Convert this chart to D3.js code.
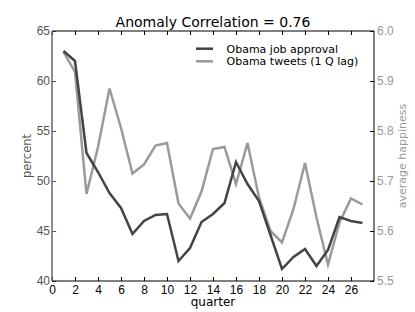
<!DOCTYPE html>
<html><head><meta charset="utf-8">
<script src="https://cdn.jsdelivr.net/npm/d3@7"></script>
<style>body{margin:0;background:#fff}svg{font-family:"DejaVu Sans",sans-serif}</style>
</head><body>
<svg id="c" width="415" height="312"></svg>
<script>
const quarters = d3.range(1, 28);
const approval = [63.0, 62.0, 52.8, 50.9, 48.8, 47.3, 44.7, 46.0, 46.6, 46.7, 42.0, 43.3, 45.9, 46.7, 47.8, 51.9, 49.7, 48.0, 44.6, 41.2, 42.4, 43.2, 41.5, 43.1, 46.4, 46.0, 45.8];
const tweets = [5.958, 5.918, 5.674, 5.768, 5.885, 5.806, 5.715, 5.733, 5.771, 5.776, 5.655, 5.625, 5.679, 5.764, 5.768, 5.694, 5.776, 5.667, 5.600, 5.577, 5.644, 5.736, 5.627, 5.533, 5.617, 5.665, 5.653];
const xTicks = d3.range(0, 27, 2);
const leftTicks = [40, 45, 50, 55, 60, 65];
const rightTicks = [5.5, 5.6, 5.7, 5.8, 5.9, 6.0];
const seriesNames = ["Obama job approval", "Obama tweets (1 Q lag)"];
const title = "Anomaly Correlation = 0.76";

const svg = d3.select("#c");
const L = 52, R = 374, T = 31, B = 281;
const x = d3.scaleLinear().domain([0, 28]).range([L, R]);
const yL = d3.scaleLinear().domain([40, 65]).range([B, T]);
const yR = d3.scaleLinear().domain([5.5, 6.0]).range([B, T]);
const dark = "#444", light = "#9a9a9a";

function styleAxis(g, color, tickColor) {
  g.select(".domain").remove();
  g.selectAll("line").attr("stroke", tickColor || "#000");
  g.selectAll("text").attr("fill", color).attr("font-size", 12);
}
svg.append("g").attr("transform", `translate(0,${B})`)
  .call(d3.axisBottom(x).tickValues(xTicks).tickSize(-4).tickPadding(4).tickFormat(d3.format("d")))
  .call(g => styleAxis(g, "#000"));
svg.append("g").attr("transform", `translate(0,${T})`)
  .call(d3.axisTop(x).tickValues(xTicks).tickSize(-4).tickFormat(""))
  .call(g => styleAxis(g, "#000"));
svg.append("g").attr("transform", `translate(${L},0)`)
  .call(d3.axisLeft(yL).tickValues(leftTicks).tickSize(-4).tickPadding(2).tickFormat(d3.format("d")))
  .call(g => styleAxis(g, "#555", "#555"));
svg.append("g").attr("transform", `translate(${R},0)`)
  .call(d3.axisRight(yR).tickValues(rightTicks).tickSize(-4).tickPadding(3).tickFormat(d3.format(".1f")))
  .call(g => styleAxis(g, "#999", "#000"));

const lineL = d3.line().x((d, i) => x(quarters[i])).y(d => yL(d));
const lineR = d3.line().x((d, i) => x(quarters[i])).y(d => yR(d));
svg.append("path").datum(tweets).attr("d", lineR).attr("fill", "none").attr("stroke", light).attr("stroke-width", 2.5);
svg.append("path").datum(approval).attr("d", lineL).attr("fill", "none").attr("stroke", dark).attr("stroke-width", 2.5);

svg.append("line").attr("x1", L).attr("x2", R).attr("y1", T).attr("y2", T).attr("stroke", "#000");
svg.append("line").attr("x1", L).attr("x2", R).attr("y1", B).attr("y2", B).attr("stroke", "#000");
svg.append("line").attr("x1", R).attr("x2", R).attr("y1", T).attr("y2", B).attr("stroke", "#000");
svg.append("line").attr("x1", L).attr("x2", L).attr("y1", T).attr("y2", B).attr("stroke", "#666").attr("stroke-width", 1.5);

const leg = svg.append("g");
[dark, light].forEach((c, i) => {
  const yy = 48.7 + i * 12.6;
  leg.append("line").attr("x1", 196).attr("x2", 213).attr("y1", yy).attr("y2", yy).attr("stroke", c).attr("stroke-width", 2.5);
  leg.append("text").attr("x", 226.5).attr("y", yy).attr("dy", "0.35em").attr("font-size", 11).attr("fill", "#000").text(seriesNames[i]);
});

svg.append("text").attr("x", (L + R) / 2).attr("y", 27).attr("text-anchor", "middle").attr("font-size", 14).attr("fill", "#000").text(title);
svg.append("text").attr("x", (L + R) / 2).attr("y", 306).attr("text-anchor", "middle").attr("font-size", 12).attr("fill", "#000").text("quarter");
svg.append("text").attr("transform", `translate(31,${(T + B) / 2}) rotate(-90)`).attr("text-anchor", "middle").attr("font-size", 11.5).attr("fill", "#555").text("percent");
svg.append("text").attr("transform", `translate(406,${(T + B) / 2}) rotate(-90)`).attr("text-anchor", "middle").attr("font-size", 11).attr("fill", "#999").text("average happiness");
</script>
</body></html>
